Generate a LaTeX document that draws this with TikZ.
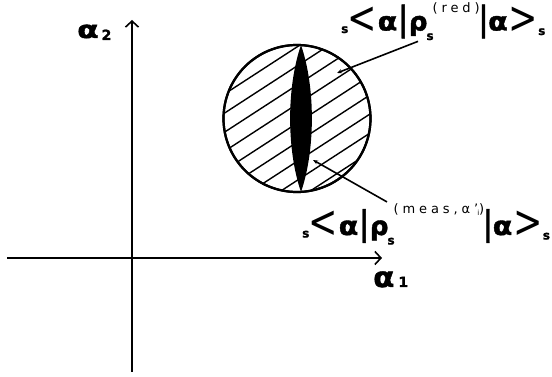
\documentclass[tikz,border=0pt]{standalone}
\usepackage{fontspec}
\setmainfont{DejaVu Sans}[BoldFeatures={FakeBold=1.5}]
\usepackage{graphicx}
\usetikzlibrary{arrows.meta}

% pieces of the s<a|rho|a>s labels
\newcommand{\widealpha}{\scalebox{1.1}[1]{α}}
\newcommand{\ssub}[2]{\raisebox{#1}{\fontsize{12}{12}\selectfont #2}}
\newcommand{\bigang}[1]{\raisebox{-3pt}{\scalebox{1.35}[1.75]{\mdseries #1}}}
\newcommand{\tallbar}{\scalebox{1}[1.3]{|}}
\newcommand{\rhoidx}[3]{\kern-1pt\ssub{-9.5pt}{#2}%
  \kern-1pt\raisebox{#1}{\fontsize{13}{13}\selectfont\mdseries\addfontfeature{LetterSpace=30}#3}}
\newcommand{\sexpval}[2][17.5pt]{\ssub{-2.5pt}{s}\kern-1pt\bigang{<}\kern1pt\widealpha\kern1pt\tallbar\kern1pt ρ\rhoidx{#1}{s}{#2}\kern-1pt\tallbar\widealpha\kern1pt\bigang{>}\ssub{-4.5pt}{s}}

\begin{document}
\begin{tikzpicture}[x=1pt,y=1pt,every node/.style={inner sep=0pt},
  axis/.style={line width=1.8pt,-{Straight Barb[length=6pt,width=13pt,line width=1.6pt]}},
  lbl/.style={anchor=base west,font=\fontsize{26}{26}\selectfont\bfseries},
  hatch/.style={line width=1.4pt},
  leader/.style={line width=1.6pt,-{Stealth[length=5pt,width=4pt]}}]
\useasboundingbox (0,0) rectangle (552,377);
% axes
\coordinate (ybot) at (132,5);
\coordinate (ytop) at (132,357);
\coordinate (xleft) at (7,119);
\coordinate (xright) at (382,119);
\draw[axis] (ybot) -- (ytop);
\draw[axis] (xleft) -- (xright);
\node[lbl,font=\fontsize{24}{24}\selectfont\bfseries] (a2) at (77,339) {\scalebox{1.3}[1]{α}\kern3pt\raisebox{-2pt}{\fontsize{14}{14}\selectfont 2}};
\node[lbl,font=\fontsize{28}{28}\selectfont\bfseries] (a1) at (373,90) {\scalebox{1.1}[1]{α}\kern4pt{\fontsize{14}{14}\selectfont 1}};
% hatched disc with the black lens
\node[draw,circle,minimum size=147pt,line width=2.2pt] (disc) at (297,258.5) {};
\begin{scope}
  \clip (disc.center) circle (73.5);
  \begin{scope}[shift={(disc.center)},rotate=33]
    \foreach \d in {-68,-52,...,76}
      \draw[hatch] (-80,\d) -- (80,\d);
  \end{scope}
\end{scope}
\coordinate (lenstop) at (301,332);
\coordinate (lensbot) at (301,185);
\fill (lenstop) .. controls (315.5,290) and (315.5,227) .. (lensbot)
  .. controls (286.5,227) and (286.5,290) .. (lenstop) -- cycle;
\draw[line width=2.2pt] (disc.center) circle (73.5);
% labels and leaders
\node[lbl] (redlbl) at (341,346.5) {\sexpval{(red)}};
\node[lbl] (measlbl) at (302,142) {\sexpval[21pt]{(meas,α'\kern-1pt\raisebox{-2pt}{\fontsize{7}{7}\selectfont i})}};
\coordinate (redtip) at (337,304);
\coordinate (meastip) at (313,217);
\draw[leader] ([shift={(77pt,-1pt)}]redlbl.south west) -- (redtip);
\draw[leader] ([shift={(85pt,2pt)}]measlbl.north west) -- (meastip);
\end{tikzpicture}
\end{document}
